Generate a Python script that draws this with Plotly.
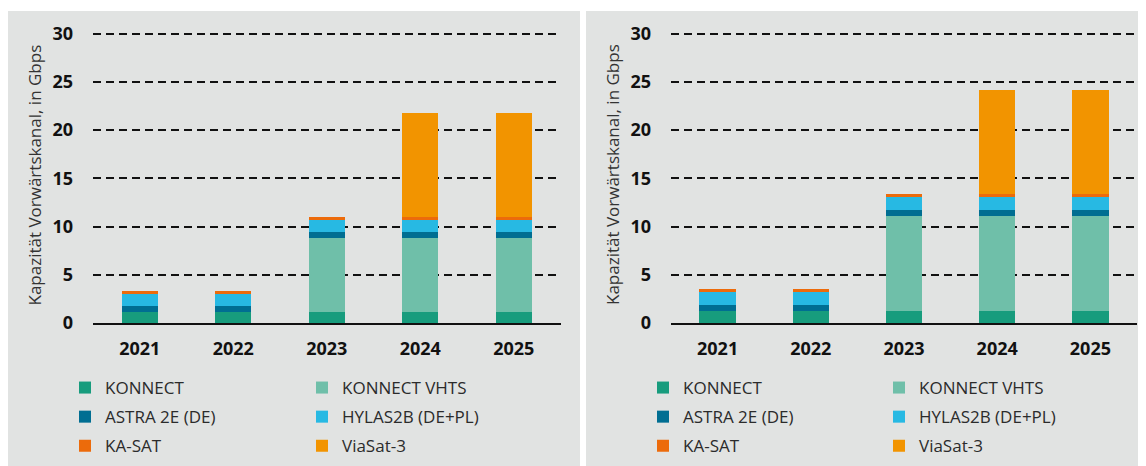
import plotly.graph_objects as go

# ---------------- data ----------------
years = ["2021", "2022", "2023", "2024", "2025"]
series_names = ["KONNECT", "KONNECT VHTS", "ASTRA 2E (DE)", "HYLAS2B (DE+PL)", "KA-SAT", "ViaSat-3"]
series_colors = ["#179c7d", "#6fbfa9", "#006e92", "#27b9e3", "#ec6b0b", "#f29400"]

# left panel (Gbps)
konnect_left = [1.15, 1.15, 1.15, 1.15, 1.15]
vhts_left = [0, 0, 7.67, 7.67, 7.67]
astra_left = [0.59, 0.59, 0.59, 0.59, 0.59]
hylas_left = [1.30, 1.30, 1.22, 1.22, 1.22]
kasat_left = [0.32, 0.32, 0.38, 0.38, 0.38]
viasat_left = [0, 0, 0, 10.8, 10.8]

# right panel (Gbps)
konnect_right = [1.28, 1.28, 1.28, 1.28, 1.28]
vhts_right = [0, 0, 9.8, 9.8, 9.8]
astra_right = [0.58, 0.58, 0.58, 0.58, 0.58]
hylas_right = [1.35, 1.35, 1.35, 1.35, 1.35]
kasat_right = [0.36, 0.36, 0.36, 0.36, 0.36]
viasat_right = [0, 0, 0, 10.75, 10.75]

y_ticks = [0, 5, 10, 15, 20, 25, 30]
y_title = "Kapazität Vorwärtskanal, in Gbps"

left_series = [konnect_left, vhts_left, astra_left, hylas_left, kasat_left, viasat_left]
right_series = [konnect_right, vhts_right, astra_right, hylas_right, kasat_right, viasat_right]

# ---------------- layout geometry ----------------
# the page body has an 8px margin, so the figure starts at (8, 8) in the window
OFF = 8
WIN_W, WIN_H = 1146, 466
W, H = WIN_W - OFF, WIN_H - OFF
PLOT_L, PLOT_R, PLOT_T, PLOT_B = 93, 1137, 28, 323   # window pixels
ML, MR, MT, MB = PLOT_L - OFF, WIN_W - PLOT_R, PLOT_T - OFF, WIN_H - PLOT_B
PW, PH = PLOT_R - PLOT_L, PLOT_B - PLOT_T
BG = "#e1e3e2"
FONT = "Open Sans"


def fx(px):
    return (px - PLOT_L) / PW


def fy(py):
    return (PLOT_B - py) / PH


fig = go.Figure()

panels = [
    ("x", "y", left_series, ("legend", "legend2"), "L"),
    ("x2", "y2", right_series, ("legend3", "legend4"), "R"),
]
for xa, ya, data, legs, tag in panels:
    for i, (name, vals, col) in enumerate(zip(series_names, data, series_colors)):
        fig.add_trace(go.Bar(
            x=years, y=vals, name=name, xaxis=xa, yaxis=ya,
            marker=dict(color=col, line=dict(width=0)),
            legend=legs[i % 2], legendgroup=tag + name,
        ))

axis_common_x = dict(
    type="category", showgrid=False, showline=True, linecolor="#111111", linewidth=2,
    ticks="", tickfont=dict(family=FONT, size=18, color="#111111", weight="bold"),
    ticklabelstandoff=8, fixedrange=True, tickangle=0,
)
axis_common_y = dict(
    range=[0, PH / 9.65], tickvals=y_ticks, showgrid=True, gridcolor="#111111",
    gridwidth=2, griddash="8px,5px", zeroline=False, showline=False, ticks="",
    tickfont=dict(family=FONT, size=18, color="#111111", weight="bold"),
    ticklabelstandoff=19, fixedrange=True,
)

fig.update_layout(
    width=W, height=H,
    margin=dict(l=ML, r=MR, t=MT, b=MB, autoexpand=False),
    paper_bgcolor="white", plot_bgcolor=BG,
    barmode="stack", bargap=0.61,
    xaxis=dict(domain=[0, fx(560.5)], anchor="y", **axis_common_x),
    yaxis=dict(anchor="x", **axis_common_y),
    xaxis2=dict(domain=[fx(671), 1], anchor="y2", **axis_common_x),
    yaxis2=dict(anchor="x2", **axis_common_y),
    font=dict(family=FONT, color="#333333"),
    showlegend=True,
)

leg_top = 370
leg_font = dict(family=FONT, size=17, color="#2b2b2b")
for lname, lx in [("legend", 65), ("legend2", 302), ("legend3", 643), ("legend4", 879)]:
    fig.update_layout({lname: dict(
        xref="container", yref="container", x=(lx - OFF) / W, y=1 - (leg_top - OFF) / H,
        xanchor="left", yanchor="top", orientation="v", traceorder="grouped",
        tracegroupgap=4, bgcolor="rgba(0,0,0,0)", font=leg_font,
        itemclick=False, itemdoubleclick=False,
    )})

# y-axis titles
for tx in [33.5, 612]:
    fig.add_annotation(text=y_title, xref="paper", yref="paper", x=fx(tx), y=fy(175),
                       xanchor="center", yanchor="middle", textangle=-90, showarrow=False,
                       font=dict(family=FONT, size=17, color="#333333"))

# grey panel backgrounds
for x0, x1 in [(8, 580), (586, 1146)]:
    fig.add_shape(type="rect", xref="paper", yref="paper",
                  x0=fx(x0), x1=fx(x1), y0=fy(WIN_H), y1=fy(11),
                  fillcolor=BG, line=dict(width=0), layer="below")

fig.write_html("out.html")
